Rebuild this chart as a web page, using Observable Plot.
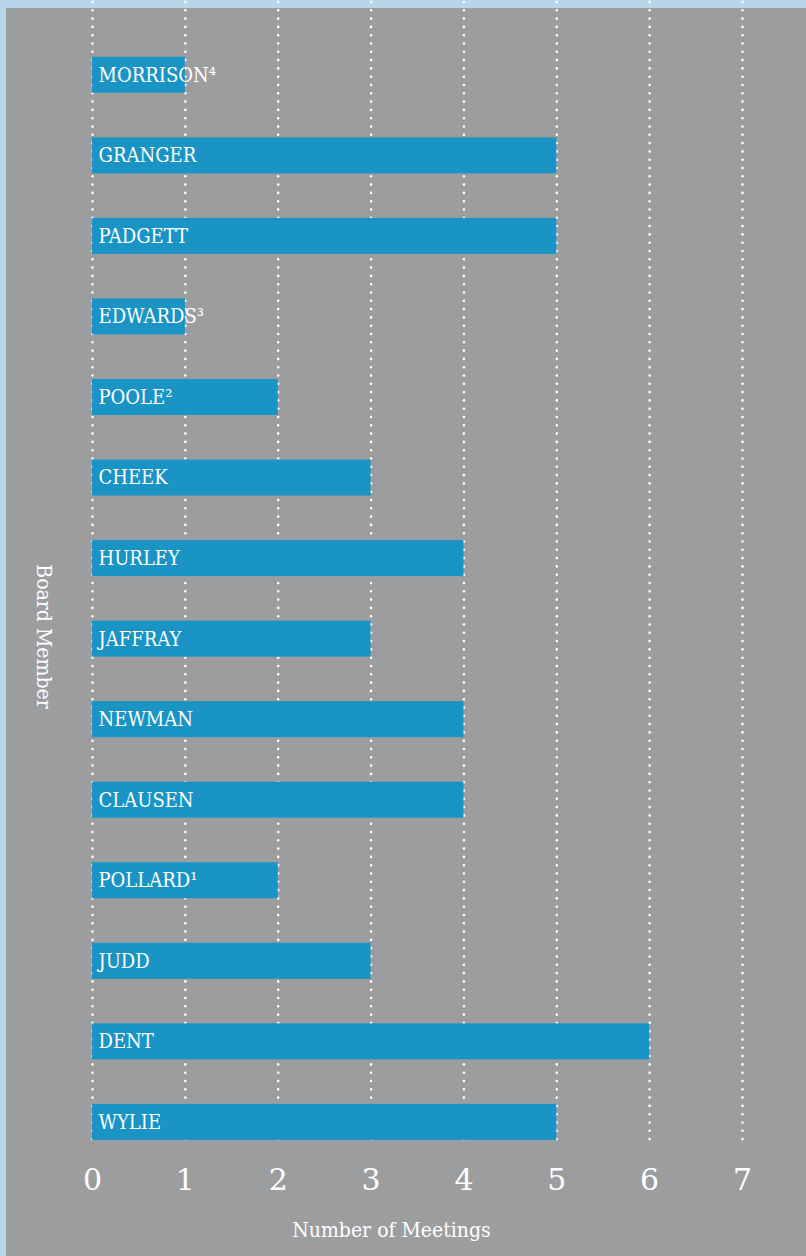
<!DOCTYPE html>
<html>
<head>
<meta charset="utf-8">
<script src="https://cdn.jsdelivr.net/npm/d3@7"></script>
<script src="https://cdn.jsdelivr.net/npm/@observablehq/plot@0.6"></script>
<style>
  html, body { margin: 0; padding: 0; background: #b9d5e9; }
  #wrap { position: relative; width: 806px; height: 1256px; overflow: hidden; }
  #panel { position: absolute; left: 6px; top: 8px; right: 0; bottom: 0; background: #9c9d9f; }
  #chart { position: absolute; left: 0; top: 0; }
</style>
</head>
<body>
<div id="wrap"><div id="panel"></div><div id="chart"></div></div>
<script>
const members = ["MORRISON", "GRANGER", "PADGETT", "EDWARDS", "POOLE", "CHEEK", "HURLEY", "JAFFRAY", "NEWMAN", "CLAUSEN", "POLLARD", "JUDD", "DENT", "WYLIE"];
const footnotes = ["⁴", "", "", "³", "²", "", "", "", "", "", "¹", "", "", ""];
const meetings = [1, 5, 5, 1, 2, 3, 4, 3, 4, 4, 2, 3, 6, 5];
const xTicks = [0, 1, 2, 3, 4, 5, 6, 7];
const xLabel = "Number of Meetings";
const yLabel = "Board Member";

const data = members.map((m, i) => ({name: m, label: m + footnotes[i], value: meetings[i]}));
const condensed = "'DejaVu Serif Condensed', 'DejaVu Serif', serif";

const plot = Plot.plot({
  width: 806,
  height: 1256,
  marginLeft: 92,
  marginRight: 64,
  marginTop: 2,
  marginBottom: 110,
  style: {background: "transparent", color: "white", fontFamily: "'DejaVu Serif', serif"},
  x: {domain: [0, 7], axis: null},
  y: {type: "band", domain: members, paddingInner: 0.553, paddingOuter: 0.378, align: 0.9, round: false, axis: null},
  marks: [
    Plot.gridX(xTicks, {stroke: "white", strokeOpacity: 1, strokeWidth: 2.6, strokeDasharray: "0 8.3", strokeLinecap: "round"}),
    Plot.barX(data, {x: "value", y: "name", fill: "#1a94c4"}),
    Plot.text(data, {x: 0, y: "name", text: "label", textAnchor: "start", dx: 6, fill: "white", fontSize: 20, fontFamily: condensed}),
    Plot.axisX({ticks: xTicks, tickSize: 0, tickPadding: 22, fontSize: 30, label: null, tickFormat: d => String(d), fill: "white"}),
    Plot.text([xLabel], {text: d => d, frameAnchor: "bottom", textAnchor: "middle", dy: 90, dx: -26, fontSize: 21, fill: "white", fontFamily: condensed}),
    Plot.text([yLabel], {text: d => d, frameAnchor: "left", textAnchor: "middle", rotate: 90, dx: -49, dy: 62, fontSize: 21, fill: "white", fontFamily: condensed})
  ]
});
document.getElementById("chart").appendChild(plot);
</script>
</body>
</html>
